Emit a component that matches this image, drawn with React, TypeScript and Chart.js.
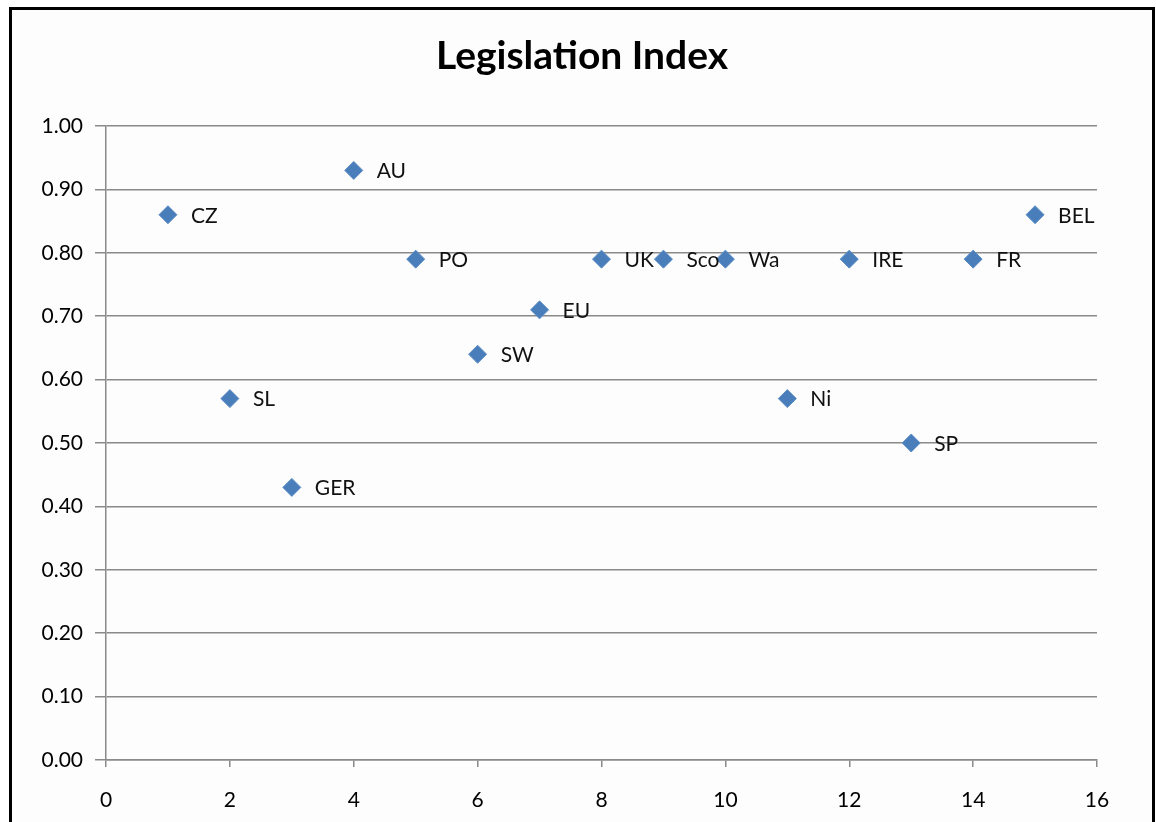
import React, { useEffect, useRef } from "react";
import { Chart, registerables } from "chart.js";

Chart.register(...registerables);

const countries = ["CZ", "SL", "GER", "AU", "PO", "SW", "EU", "UK", "Sco", "Wa", "Ni", "IRE", "SP", "FR", "BEL"];
const xValues = [1, 2, 3, 4, 5, 6, 7, 8, 9, 10, 11, 12, 13, 14, 15];
const indexValues = [0.86, 0.57, 0.43, 0.93, 0.79, 0.64, 0.71, 0.79, 0.79, 0.79, 0.57, 0.79, 0.5, 0.79, 0.86];
const chartTitle = "Legislation Index";

const FONT = "Lato, 'Open Sans', sans-serif";

const titlePlugin = {
  id: "customTitle",
  afterDraw(chart: any) {
    const ctx = chart.ctx;
    ctx.save();
    ctx.font = `bold 39px ${FONT}`;
    ctx.fillStyle = "#000";
    ctx.textAlign = "center";
    ctx.textBaseline = "middle";
    ctx.fillText(chartTitle, chart.width / 2, 46);
    ctx.restore();
  },
};

const labelPlugin = {
  id: "pointLabels",
  afterDatasetsDraw(chart: any) {
    const ctx = chart.ctx;
    const meta = chart.getDatasetMeta(0);
    ctx.save();
    ctx.font = `21px ${FONT}`;
    ctx.fillStyle = "#111";
    ctx.textAlign = "left";
    ctx.textBaseline = "middle";
    meta.data.forEach((pt: any, i: number) => {
      ctx.fillText(countries[i], pt.x + 23, pt.y + 1);
    });
    ctx.restore();
  },
};

export default function App() {
  const ref = useRef<HTMLCanvasElement | null>(null);
  useEffect(() => {
    if (!ref.current) return;
    const chart = new Chart(ref.current, {
      type: "scatter",
      data: {
        datasets: [
          {
            label: chartTitle,
            data: xValues.map((x, i) => ({ x, y: indexValues[i] })),
            pointStyle: "rectRot",
            pointRadius: 9,
            pointHoverRadius: 9,
            backgroundColor: "#4A7EBB",
            borderColor: "#5B8CC4",
            borderWidth: 1,
          },
        ],
      },
      options: {
        responsive: false,
        animation: false,
        layout: { padding: { top: 116, right: 55, left: 0, bottom: 0 } },
        plugins: {
          legend: { display: false },
          title: { display: false },
          tooltip: { enabled: false },
        },
        scales: {
          x: {
            type: "linear",
            min: 0,
            max: 16,
            afterFit(scale: any) {
              scale.height = 62;
            },
            ticks: {
              stepSize: 2,
              color: "#000",
              font: { family: FONT, size: 21 },
              padding: 21,
              maxRotation: 0,
            },
            grid: {
              drawOnChartArea: false,
              drawTicks: true,
              tickLength: 7,
              color: "#8a8a8a",
              lineWidth: 1.5,
            },
            border: { display: true, color: "#8a8a8a", width: 1.5 },
          },
          y: {
            type: "linear",
            min: 0,
            max: 1,
            afterFit(scale: any) {
              scale.width = 94;
            },
            ticks: {
              stepSize: 0.1,
              color: "#000",
              font: { family: FONT, size: 21 },
              padding: 12,
              callback: (v: any) => Number(v).toFixed(2),
            },
            grid: {
              drawTicks: true,
              tickLength: 11,
              color: "#8a8a8a",
              lineWidth: 1.5,
            },
            border: { display: true, color: "#8a8a8a", width: 1.5 },
          },
        },
      },
      plugins: [titlePlugin, labelPlugin],
    });
    return () => chart.destroy();
  }, []);

  return (
    <div
      style={{
        position: "fixed",
        left: 9,
        top: 7,
        width: 1140,
        height: 830,
        border: "3px solid #000",
        background: "#fdfdfd",
      }}
    >
      <canvas ref={ref} width={1140} height={812} style={{ display: "block", width: 1140, height: 812 }} />
    </div>
  );
}
